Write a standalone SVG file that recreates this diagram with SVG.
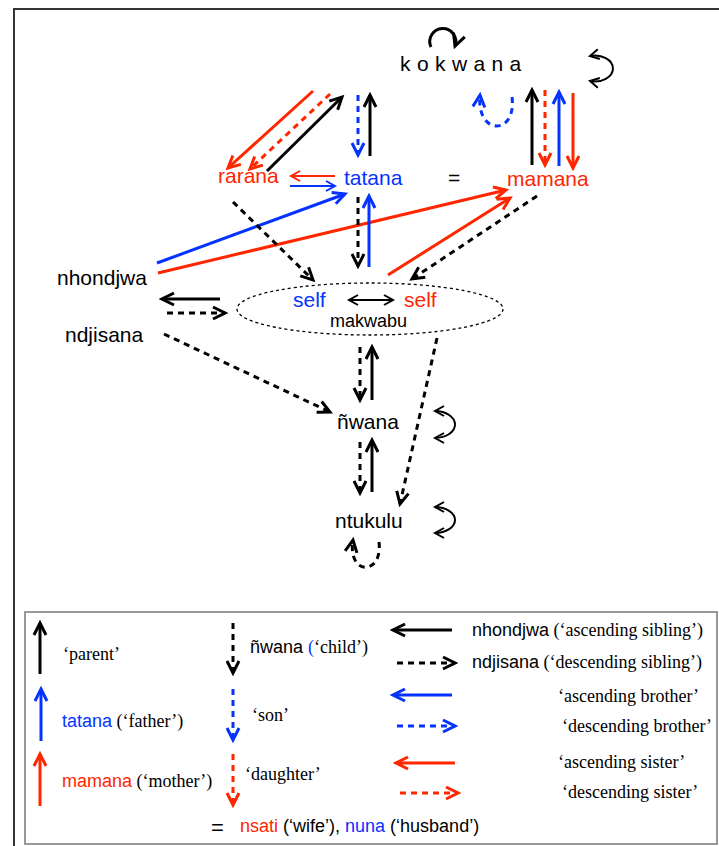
<svg xmlns="http://www.w3.org/2000/svg" width="719" height="846" viewBox="0 0 719 846">
<style>
.s{font-family:"Liberation Sans",Arial,sans-serif;font-size:21px}
.lg{font-family:"Liberation Sans",Arial,sans-serif;font-size:18px}
.t{font-family:"Liberation Serif","Times New Roman",serif;font-size:18px}
.k{fill:#000}.r{fill:#ff2600}.b{fill:#0433ff}
.ln{fill:none;stroke-width:3}
.thin{fill:none;stroke-width:2}
.bk{stroke:#000}.rd{stroke:#ff2600}.bl{stroke:#0433ff}
.d{stroke-dasharray:6 5}
.mh{fill:none;stroke-width:3;stroke-dasharray:none;stroke-linejoin:miter}
.mt{fill:none;stroke-width:2;stroke-dasharray:none;stroke-linejoin:miter}
</style>
<defs>
<marker id="ak" markerUnits="userSpaceOnUse" markerWidth="16" markerHeight="16" refX="13" refY="8" orient="auto"><path class="mh bk" d="M1,2 L13,8 L1,14"/></marker>
<marker id="ab" markerUnits="userSpaceOnUse" markerWidth="16" markerHeight="16" refX="13" refY="8" orient="auto"><path class="mh bl" d="M1,2 L13,8 L1,14"/></marker>
<marker id="ar" markerUnits="userSpaceOnUse" markerWidth="16" markerHeight="16" refX="13" refY="8" orient="auto"><path class="mh rd" d="M1,2 L13,8 L1,14"/></marker>
<marker id="tk" markerUnits="userSpaceOnUse" markerWidth="14" markerHeight="14" refX="11" refY="7" orient="auto-start-reverse"><path class="mt bk" d="M2,2 L11,7 L2,12"/></marker>
<marker id="tb" markerUnits="userSpaceOnUse" markerWidth="14" markerHeight="14" refX="11" refY="7" orient="auto"><path class="mt bl" d="M2,2 L11,7 L2,12"/></marker>
<marker id="tr" markerUnits="userSpaceOnUse" markerWidth="14" markerHeight="14" refX="11" refY="7" orient="auto"><path class="mt rd" d="M2,2 L11,7 L2,12"/></marker>
</defs>
<rect x="0" y="0" width="719" height="846" fill="#fff"/>
<rect x="14" y="9" width="800" height="900" fill="none" stroke="#333" stroke-width="2"/>

<g id="connectors">
<path class="ln rd" d="M313,91 L228,168" marker-end="url(#ar)"/>
<path class="ln rd d" d="M330,94 L250,169" marker-end="url(#ar)"/>
<path class="ln bk" d="M267,171 L342,97" marker-end="url(#ak)"/>
<path class="ln bl d" d="M358,95 L358,155" marker-end="url(#ab)"/>
<path class="ln bk" d="M370,156 L370,95" marker-end="url(#ak)"/>
<path class="thin rd" d="M335,176 L291,176" marker-end="url(#tr)"/>
<path class="thin bl" d="M290,186 L335,186" marker-end="url(#tb)"/>
<path class="ln bl" d="M157,263 L345,194" marker-end="url(#ab)"/>
<path class="ln rd" d="M158,273 L506,190" marker-end="url(#ar)"/>
<path class="ln rd" d="M388,275 L510,198" marker-end="url(#ar)"/>
<path class="ln bk d" d="M537,196 L412,279" marker-end="url(#ak)"/>
<path class="ln bk d" d="M233,202 L313,280" marker-end="url(#ak)"/>
<path class="ln bk d" d="M358,197 L358,266" marker-end="url(#ak)"/>
<path class="ln bl" d="M369,267 L369,196" marker-end="url(#ab)"/>
<path class="ln bk" d="M532,165 L532,90" marker-end="url(#ak)"/>
<path class="ln rd d" d="M545,90 L545,165" marker-end="url(#ar)"/>
<path class="ln bl" d="M559,166 L559,92" marker-end="url(#ab)"/>
<path class="ln rd" d="M573,93 L573,168" marker-end="url(#ar)"/>
<path class="ln bk" d="M220,299 L162,299" marker-end="url(#ak)"/>
<path class="ln bk d" d="M167,313 L225,313" marker-end="url(#ak)"/>
<path class="thin bk" d="M349,300 L393,300" marker-start="url(#tk)" marker-end="url(#tk)"/>
<path class="ln bk d" d="M164,334 L330,412" marker-end="url(#ak)"/>
<path class="ln bk d" d="M437,338 L400,504" marker-end="url(#ak)"/>
<path class="ln bk d" d="M360,347 L360,400" marker-end="url(#ak)"/>
<path class="ln bk" d="M372,400 L372,347" marker-end="url(#ak)"/>
<path class="ln bk d" d="M360,442 L360,493" marker-end="url(#ak)"/>
<path class="ln bk" d="M372,492 L372,440" marker-end="url(#ak)"/>
<path class="ln bk" d="M431,47 A13,13 0 1 1 455,46" marker-end="url(#ak)"/>
<path class="thin bk" d="M590,56 A18,13 0 1 1 590,81" marker-start="url(#tk)" marker-end="url(#tk)"/>
<path class="ln bl d" d="M512,97 C517,136 476,136 480,95" marker-end="url(#ab)"/>
<path class="thin bk" d="M435,411 A20,13.5 0 1 1 435,438" marker-start="url(#tk)" marker-end="url(#tk)"/>
<path class="thin bk" d="M435,507 A20,13 0 1 1 435,533" marker-start="url(#tk)" marker-end="url(#tk)"/>
<path class="ln bk d" d="M379,542 C383,576 347,576 353,540" marker-end="url(#ak)"/>
</g>

<g id="kokwana"><text class="s k" x="400" y="71" letter-spacing="6.4">kokwana</text></g>
<g id="rarana"><text class="s r" x="218" y="183">rarana</text></g>
<g id="tatana"><text class="s b" x="344" y="185">tatana</text></g>
<g id="equals"><text class="s k" x="448" y="185">=</text></g>
<g id="mamana"><text class="s r" x="507" y="186">mamana</text></g>
<g id="nhondjwa"><text class="s k" x="57" y="285">nhondjwa</text></g>
<g id="ndjisana"><text class="s k" x="65" y="342">ndjisana</text></g>
<g id="makwabu">
<ellipse cx="370" cy="309" rx="133" ry="26" fill="none" stroke="#000" stroke-width="1.3" stroke-dasharray="3 3"/>
<text class="s b" x="293" y="307">self</text>
<text class="s r" x="404" y="307">self</text>
<text class="s k" x="330" y="327" style="font-size:18px">makwabu</text>
</g>
<g id="nwana"><text class="s k" x="337" y="429">ñwana</text></g>
<g id="ntukulu"><text class="s k" x="335" y="528">ntukulu</text></g>

<g id="legend">
<rect x="25" y="612" width="692" height="232" fill="#fff" stroke="#999" stroke-width="2"/>
<path class="ln bk" d="M40,674 L40,623" marker-end="url(#ak)"/>
<path class="ln bl" d="M41,741 L41,689" marker-end="url(#ab)"/>
<path class="ln rd" d="M40,806 L40,754" marker-end="url(#ar)"/>
<path class="ln bk d" d="M233,623 L233,673" marker-end="url(#ak)"/>
<path class="ln bl d" d="M233,689 L233,740" marker-end="url(#ab)"/>
<path class="ln rd d" d="M233,754 L233,805" marker-end="url(#ar)"/>
<path class="ln bk" d="M452,630 L393,630" marker-end="url(#ak)"/>
<path class="ln bk d" d="M397,663 L455,663" marker-end="url(#ak)"/>
<path class="ln bl" d="M452,695 L393,695" marker-end="url(#ab)"/>
<path class="ln bl d" d="M397,726 L455,726" marker-end="url(#ab)"/>
<path class="ln rd" d="M455,763 L396,763" marker-end="url(#ar)"/>
<path class="ln rd d" d="M400,793 L458,793" marker-end="url(#ar)"/>
<text class="t k" x="63" y="660">‘parent’</text>
<text x="62" y="727"><tspan class="lg b">tatana</tspan><tspan class="t k"> (‘father’)</tspan></text>
<text x="62" y="787"><tspan class="lg r">mamana</tspan><tspan class="t k"> (‘mother’)</tspan></text>
<text x="250" y="653"><tspan class="lg k">ñwana </tspan><tspan class="t b">(</tspan><tspan class="t k">‘child’)</tspan></text>
<text class="t k" x="252" y="721">‘son’</text>
<text class="t k" x="245" y="780">‘daughter’</text>
<text class="lg k" x="211" y="835" style="font-size:22px">=</text>
<text x="240" y="832" class="lg"><tspan class="r">nsati</tspan><tspan class="k"> (‘wife’), </tspan><tspan class="b">nuna</tspan><tspan class="k"> (‘husband’)</tspan></text>
<text x="472" y="636"><tspan class="lg k">nhondjwa</tspan><tspan class="t k"> (‘ascending sibling’)</tspan></text>
<text x="472" y="668"><tspan class="lg k">ndjisana</tspan><tspan class="t k"> (‘descending sibling’)</tspan></text>
<text class="t k" x="558" y="702">‘ascending brother’</text>
<text class="t k" x="562" y="732">‘descending brother’</text>
<text class="t k" x="558" y="768">‘ascending sister’</text>
<text class="t k" x="562" y="798">‘descending sister’</text>
</g>
</svg>
